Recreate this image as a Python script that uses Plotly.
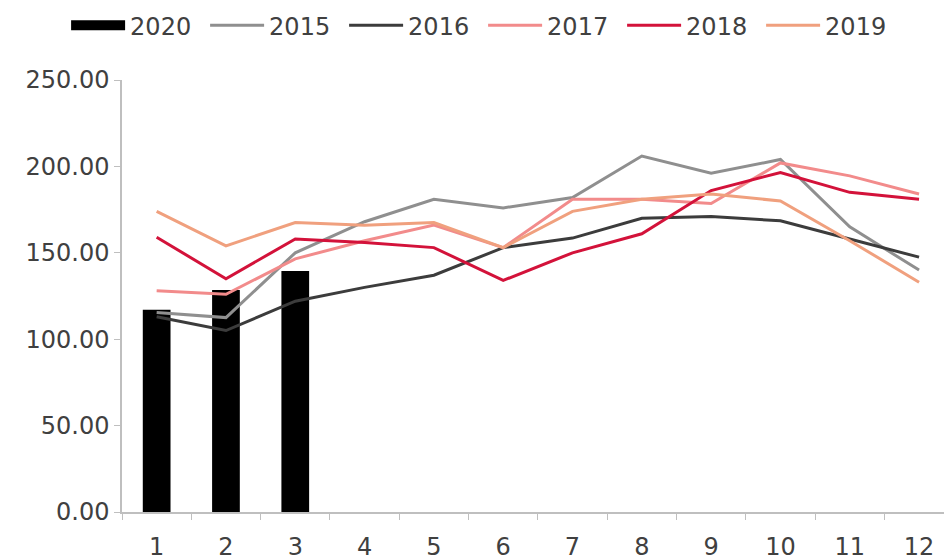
import plotly.graph_objects as go

months = [str(i) for i in range(1, 13)]
y2020 = [117, 128.5, 139.5]
y2015 = [115.5, 112.5, 150, 168, 181, 176, 182, 206, 196, 204, 165, 140]
y2016 = [113, 105, 122, 130, 137, 153, 158.5, 170, 171, 168.5, 158, 147.5]
y2017 = [128, 126, 146.5, 157, 166, 153, 181, 181, 178.5, 202, 194.5, 184]
y2018 = [159, 135, 158, 156, 153, 134, 150, 161, 186, 196.5, 185, 181]
y2019 = [174, 154, 167.5, 166, 167.5, 153, 174, 181, 184, 180, 157, 133]

FONT = "DejaVu Sans"
fig = go.Figure()
fig.add_trace(go.Bar(x=months[:3], y=y2020, name="2020", marker_color="#000000",
                     marker_line_width=0, width=0.4, showlegend=False,
                     legendgroup="2020"))
# legend key for the bars (wide black block like the reference)
fig.add_trace(go.Scatter(x=[None], y=[None], name="2020", mode="lines",
                         line=dict(color="#000000", width=16), legendgroup="2020"))
series = [("2015", y2015, "#8f8f8f"), ("2016", y2016, "#3c3c3c"),
          ("2017", y2017, "#f28b8b"), ("2018", y2018, "#d3123a"),
          ("2019", y2019, "#f0a07e")]
for name, ys, col in series:
    fig.add_trace(go.Scatter(x=months, y=ys, name=name, mode="lines",
                             line=dict(color=col, width=3)))

fig.update_layout(
    width=944, height=560,
    margin=dict(l=122, r=0, t=80, b=48),
    paper_bgcolor="white", plot_bgcolor="white",
    font=dict(family=FONT, size=24, color="#404040"),
    showlegend=True,
    legend=dict(orientation="h", xref="paper", yref="paper",
                x=-0.068, y=1.178, xanchor="left", yanchor="top",
                font=dict(size=24, color="#404040"), itemwidth=54,
                entrywidth=70, traceorder="normal", bgcolor="rgba(0,0,0,0)"),
    xaxis=dict(type="category", categoryorder="array", categoryarray=months,
               range=[-0.5, 11.36], tickson="boundaries", ticks="outside",
               ticklen=6, tickcolor="#bfbfbf", showline=True, linecolor="#bfbfbf",
               linewidth=1.5, showgrid=False, ticklabelstandoff=12,
               tickfont=dict(size=24, color="#404040")),
    yaxis=dict(range=[0, 250], tickvals=[0, 50, 100, 150, 200, 250],
               tickformat=".2f", ticks="outside", ticklen=6, tickcolor="#bfbfbf",
               showline=True, linecolor="#bfbfbf", linewidth=1.5, showgrid=False,
               zeroline=False, tickfont=dict(size=24, color="#404040")),
)
fig.write_html("out.html")
